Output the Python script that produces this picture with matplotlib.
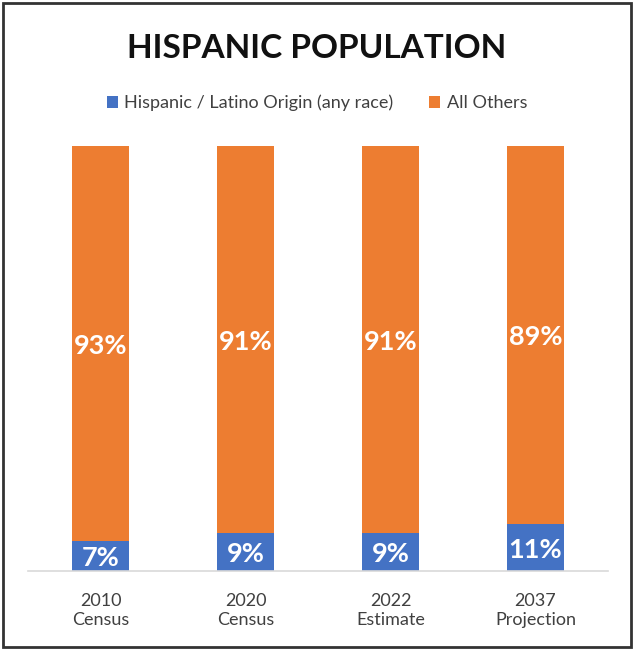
import matplotlib.pyplot as plt
from matplotlib.patches import Rectangle

plt.rcParams['font.family'] = ['Lato', 'DejaVu Sans']

categories = ['2010\nCensus', '2020\nCensus', '2022\nEstimate', '2037\nProjection']
hispanic = [7, 9, 9, 11]
others = [93, 91, 91, 89]

blue = '#4472C4'
orange = '#ED7D31'

fig = plt.figure(figsize=(6.34, 6.5), dpi=100)
ax = fig.add_axes([0.0442, 0.1215, 0.9148, 0.6539])

x = range(len(categories))
b1 = ax.bar(x, hispanic, width=0.39, color=blue, label='Hispanic / Latino Origin (any race)')
b2 = ax.bar(x, others, width=0.39, bottom=hispanic, color=orange, label='All Others')

for bars, vals in ((b1, hispanic), (b2, others)):
    for bar, v in zip(bars, vals):
        ax.text(bar.get_x() + bar.get_width() / 2, bar.get_y() + bar.get_height() / 2 - 0.5,
                f'{v}%', ha='center', va='center', color='white',
                fontsize=19.5, fontweight='bold')

ax.set_xlim(-0.5, 3.5)
ax.set_ylim(0, 100)
ax.set_xticks(list(x))
ax.set_xticklabels(categories, fontsize=13, color='#404040', linespacing=1.25)
ax.tick_params(axis='x', length=0, pad=16)
ax.set_yticks([])
for s in ['left', 'right', 'top']:
    ax.spines[s].set_visible(False)
ax.spines['bottom'].set_color('#D9D9D9')
ax.spines['bottom'].set_linewidth(1.2)

fig.text(0.5, 0.926, 'HISPANIC POPULATION', ha='center', va='center',
         fontsize=24, fontweight='bold', color='#111111')

fig.legend(handles=[b1, b2], loc='center', bbox_to_anchor=(0.5, 0.8415),
           ncol=2, frameon=False, fontsize=13, handlelength=0.6, handleheight=0.6,
           handletextpad=0.35, columnspacing=2.0, labelcolor='#404040')

fig.add_artist(Rectangle((3 / 634, 3 / 650), 628 / 634, 644 / 650, transform=fig.transFigure,
                         fill=False, edgecolor='#333333', linewidth=2))

fig.savefig('out.png', dpi=100)
